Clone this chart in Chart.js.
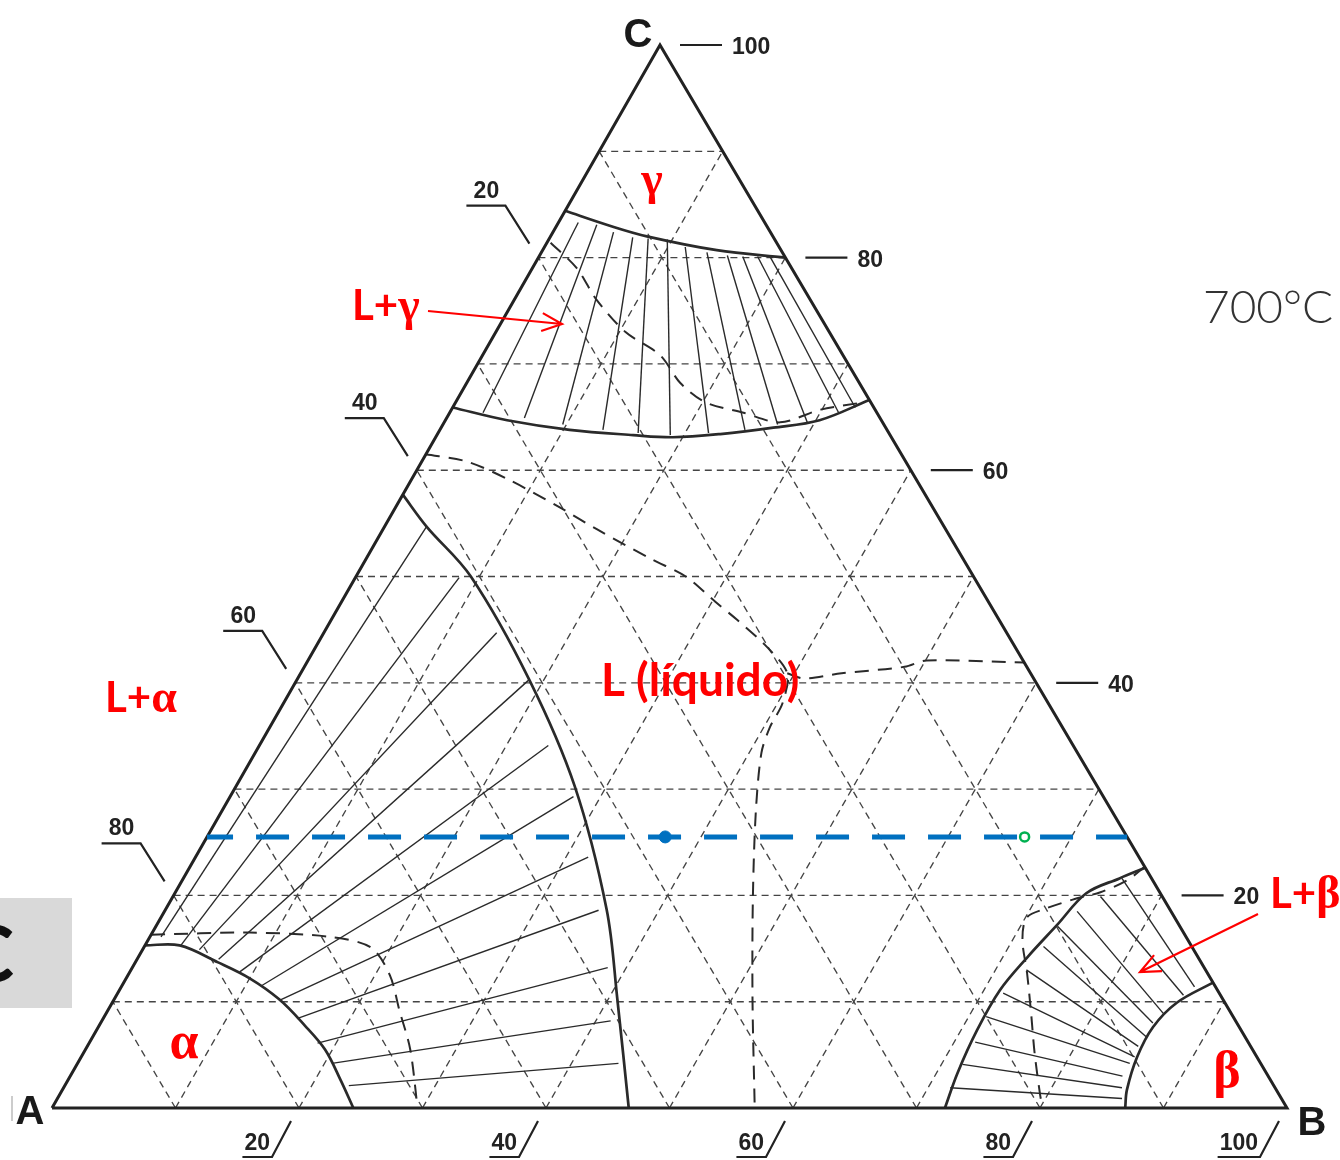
<!DOCTYPE html>
<html>
<head>
<meta charset="utf-8">
<title>Diagrama ternario A-B-C, 700 °C</title>
<script src="https://cdn.jsdelivr.net/npm/chart.js@4.4.1/dist/chart.umd.min.js"></script>
<style>
  html, body { margin: 0; padding: 0; background: #fff; }
  #wrap { width: 1340px; height: 1160px; }
</style>
</head>
<body>
<div id="wrap"><canvas id="ternary" width="1340" height="1160"></canvas></div>
<script>
// All compositions are [%B, %C]; %A is whatever is left to 100.
const gridLevels = [10, 20, 30, 40, 50, 60, 70, 80, 90];
const ticksA = [20, 40, 60, 80];
const ticksB = [20, 40, 60, 80, 100];
const ticksC = [20, 40, 60, 80, 100];

// gamma solvus and L+gamma liquidus
const gammaSolvus = [[0, 84.4], [4.3, 83.0], [7.8, 82.0], [14.1, 80.7], [20.0, 80.0]];
const gammaLiquidus = [[0, 65.9], [5.0, 64.7], [10.5, 63.8], [15.9, 63.3], [19.2, 63.1],
  [22.9, 63.4], [26.9, 64.0], [30.3, 64.7], [33.4, 66.6]];
const gammaTies = [
  [[1.6, 83.3], [2.7, 65.4]], [[3.2, 83.1], [6.3, 64.9]], [[4.9, 82.4], [9.7, 64.3]],
  [[6.7, 81.9], [13.2, 63.8]], [[8.0, 81.8], [16.2, 63.5]], [[9.6, 81.7], [18.9, 63.3]],
  [[11.4, 81.0], [21.9, 63.5]], [[13.4, 80.5], [24.7, 63.8]], [[15.2, 80.2], [27.1, 64.3]],
  [[16.5, 80.1], [29.4, 64.5]], [[17.7, 80.1], [31.5, 65.4]], [[18.7, 80.1], [32.6, 65.9]]
];

// alpha solvus and L+alpha liquidus
const alphaSolvus = [[0, 15.3], [2.8, 15.3], [6.7, 13.7], [10.0, 12.2], [13.4, 10.2],
  [16.6, 7.8], [19.4, 5.5], [22.1, 2.6], [24.4, 0]];
const alphaLiquidus = [[0, 57.7], [3.4, 54.7], [9.3, 50.0], [18.8, 40.3], [27.4, 30.3],
  [35.7, 18.7], [40.7, 10.3], [46.7, 0]];
const alphaTies = [
  [[0.9, 16.1], [3.4, 54.7]], [[2.9, 15.3], [8.4, 49.9]], [[4.6, 14.9], [14.0, 44.7]],
  [[6.6, 14.0], [18.8, 40.3]], [[8.9, 12.8], [23.4, 34.1]], [[11.3, 11.5], [27.8, 29.3]],
  [[13.4, 10.1], [31.8, 23.6]], [[15.7, 8.4], [35.1, 18.6]], [[18.5, 6.1], [38.5, 13.2]],
  [[20.6, 4.2], [41.2, 8.2]], [[23.0, 2.1], [43.8, 4.2]]
];

// beta solvus and L+beta liquidus
const betaLiquidus = [[77.4, 22.6], [75.8, 21.6], [73.8, 20.2], [72.9, 17.2], [72.0, 14.2],
  [71.3, 11.1], [71.3, 7.3], [71.7, 3.3], [72.3, 0]];
const betaSolvus = [[88.2, 11.8], [86.2, 9.9], [85.4, 7.6], [85.5, 4.8], [86.2, 1.7], [86.9, 0]];
const betaTies = [
  [[76.0, 21.6], [86.9, 11.4]], [[75.1, 19.9], [86.4, 10.6]], [[73.9, 18.5], [85.6, 8.9]],
  [[73.0, 17.1], [85.2, 8.0]], [[72.8, 15.2], [85.3, 6.7]], [[72.5, 13.0], [85.1, 5.8]],
  [[71.7, 10.8], [85.3, 4.8]], [[71.4, 8.6], [85.2, 4.2]], [[71.7, 6.2], [85.2, 3.0]],
  [[71.7, 4.1], [85.7, 1.9]], [[71.8, 1.9], [86.2, 0.9]]
];

// long-dash boundaries (other isotherm)
const dashCentral = [[0, 61.5], [3.7, 60.8], [7.9, 59.1], [13.3, 56.5], [17.4, 54.4],
  [23.2, 51.6], [26.7, 50.0], [30.3, 47.6], [32.9, 45.9], [36.5, 43.4], [39.4, 40.9],
  [40.4, 38.1], [40.5, 35.8], [41.0, 33.4], [43.3, 27.8], [47.1, 19.6], [51.7, 10.2], [56.9, 0]];
const dashRight = [[39.4, 40.9], [41.0, 40.4], [43.8, 40.9], [48.6, 41.5], [50.1, 42.1], [58.1, 41.9]];
const dashGamma = [[0.3, 81.4], [3.6, 79.0], [6.7, 76.0], [10.5, 73.0], [14.4, 70.8],
  [17.3, 68.2], [20.2, 66.4], [23.8, 65.4], [27.2, 64.5], [29.9, 65.7], [33.1, 66.4]];
const dashAlpha = [[0, 16.3], [7.9, 16.5], [14.6, 16.1], [18.4, 15.1], [21.2, 12.5],
  [23.6, 9.2], [26.3, 5.5], [29.6, 0]];
const dashBeta = [[77.3, 22.7], [76.5, 21.4], [74.9, 20.3], [73.0, 19.6], [71.3, 18.8],
  [70.1, 17.9], [70.8, 15.8], [72.7, 12.7], [74.9, 8.9], [77.0, 5.2], [79.3, 1.4], [80.2, 0]];

// isopleth at constant C and the two alloys on it
const isoC = 25.5;
const isoRange = [0, 74.5];
const alloyFilled = [37.1];
const alloyOpen = [66.2];

// --- geometry -------------------------------------------------------------
// the drawn triangle is slightly sheared: C sits 608 px right of A on a 1235 px base
const SKEW = 608 / 1235;
const toXY = ([b, c]) => ({ x: b + c * SKEW, y: c });

const INK = '#2a2a2a';
const GRID = '#444';
const RED = '#ff0000';

function line(points, opts = {}) {
  return {
    data: points.map(toXY),
    showLine: true,
    pointRadius: 0,
    fill: false,
    borderColor: opts.color || INK,
    borderWidth: opts.width || 1.3,
    borderDash: opts.dash || [],
    borderDashOffset: opts.dashOffset || 0,
    tension: opts.tension || 0,
    order: opts.order != null ? opts.order : 4
  };
}

const datasets = [];

// grid: constant C, constant B, constant A
gridLevels.forEach((k) => {
  const g = { color: GRID, width: 1.35, dash: [7, 5], order: 9 };
  datasets.push(line([[0, k], [100 - k, k]], g));
  datasets.push(line([[k, 0], [k, 100 - k]], g));
  datasets.push(line([[100 - k, 0], [0, 100 - k]], g));
});

datasets.push(line([[0, 0], [100, 0], [0, 100], [0, 0]], { width: 3, color: '#222', order: 2 }));

[gammaTies, alphaTies, betaTies].forEach((ties) => {
  ties.forEach((t) => datasets.push(line(t, { width: 1.4, order: 6 })));
});

[gammaSolvus, gammaLiquidus, alphaSolvus, alphaLiquidus, betaLiquidus, betaSolvus].forEach((c) => {
  datasets.push(line(c, { width: 2.7, tension: 0.35, order: 3 }));
});

[dashCentral, dashRight, dashGamma, dashAlpha, dashBeta].forEach((c) => {
  datasets.push(line(c, { width: 2, dash: [14, 9], tension: 0.3, order: 5 }));
});

datasets.push(line([[isoRange[0], isoC], [isoRange[1], isoC]],
  { color: '#0070c0', width: 5, dash: [33, 23], dashOffset: 7, order: 1 }));

datasets.push({
  data: alloyFilled.map((b) => toXY([b, isoC])),
  pointRadius: 6, pointBackgroundColor: '#0070c0', pointBorderColor: '#0070c0',
  pointBorderWidth: 1, order: 0
});
datasets.push({
  data: alloyOpen.map((b) => toXY([b, isoC])),
  pointRadius: 4.5, pointBackgroundColor: '#fff', pointBorderColor: '#00b050',
  pointBorderWidth: 2.5, order: 0
});

// --- text, leaders and arrows ---------------------------------------------
function arrow(ctx, x1, y1, x2, y2) {
  const a = Math.atan2(y2 - y1, x2 - x1);
  const h = 22, s = 0.42;
  ctx.beginPath();
  ctx.moveTo(x1, y1);
  ctx.lineTo(x2, y2);
  ctx.moveTo(x2 - h * Math.cos(a - s), y2 - h * Math.sin(a - s));
  ctx.lineTo(x2, y2);
  ctx.lineTo(x2 - h * Math.cos(a + s), y2 - h * Math.sin(a + s));
  ctx.stroke();
}

function mixed(ctx, parts, x, y) {
  let cx = x;
  parts.forEach(([t, f]) => {
    ctx.font = f;
    ctx.fillText(t, cx, y);
    cx += ctx.measureText(t).width;
  });
}

const annotations = {
  id: 'annotations',
  beforeDatasetsDraw(chart) {
    const ctx = chart.ctx;
    ctx.save();
    ctx.fillStyle = '#d9d9d9';
    ctx.fillRect(0, 898, 72, 110);
    ctx.fillStyle = '#111';
    ctx.font = "bold 78px Lato, 'Open Sans', sans-serif";
    ctx.textAlign = 'right';
    ctx.textBaseline = 'alphabetic';
    ctx.fillText('C', 14, 982);
    ctx.restore();
  },
  afterDatasetsDraw(chart) {
    const ctx = chart.ctx;
    const sx = chart.scales.x, sy = chart.scales.y;
    const px = (b, c) => [sx.getPixelForValue(b + c * SKEW), sy.getPixelForValue(c)];
    ctx.save();
    ctx.textBaseline = 'alphabetic';

    // tick labels
    ctx.strokeStyle = '#222';
    ctx.fillStyle = '#222';
    ctx.lineWidth = 2.2;
    ctx.font = "bold 23px 'Liberation Sans', Arial, sans-serif";

    ticksB.forEach((k) => {
      const [x, y] = px(k, 0);
      const t = String(k);
      const w = ctx.measureText(t).width;
      const right = x - 27;
      ctx.textAlign = 'right';
      ctx.fillText(t, right - 2, y + 42);
      ctx.beginPath();
      ctx.moveTo(right - w - 4, y + 49);
      ctx.lineTo(right, y + 49);
      ctx.lineTo(x - 8, y + 13);
      ctx.stroke();
    });

    ticksA.forEach((k) => {
      const [x, y] = px(0, 100 - k);
      const t = String(k);
      ctx.textAlign = 'center';
      ctx.fillText(t, x - 52, y - 60);
      ctx.beginPath();
      ctx.moveTo(x - 72, y - 52);
      ctx.lineTo(x - 33, y - 52);
      ctx.lineTo(x - 9, y - 14);
      ctx.stroke();
    });

    ticksC.forEach((k) => {
      const [x, y] = px(100 - k, k);
      ctx.textAlign = 'left';
      ctx.fillText(String(k), x + 72, y + 9);
      ctx.beginPath();
      ctx.moveTo(x + 20, y);
      ctx.lineTo(x + 62, y);
      ctx.stroke();
    });

    // corner labels
    ctx.font = "bold 40px 'Liberation Sans', Arial, sans-serif";
    ctx.textAlign = 'center';
    ctx.fillStyle = '#1a1a1a';
    const [ax, ay] = px(0, 0), [bx, by] = px(100, 0), [cx, cy] = px(0, 100);
    ctx.fillText('C', cx - 22, cy + 2);
    ctx.fillText('A', ax - 22, ay + 16);
    ctx.fillText('B', bx + 25, by + 27);

    ctx.strokeStyle = '#999';
    ctx.lineWidth = 1;
    ctx.beginPath();
    ctx.moveTo(12, 1096);
    ctx.lineTo(12, 1121);
    ctx.stroke();

    // temperature note
    ctx.fillStyle = '#333';
    ctx.textAlign = 'left';
    ctx.font = "300 46px Lato, 'DejaVu Sans', sans-serif";
    ctx.fillText('700°C', 1203, 323);

    // phase names
    const sans = "bold 42px Lato, 'Open Sans', sans-serif";
    const greek = "bold 46px 'Liberation Serif', 'DejaVu Serif', serif";
    ctx.fillStyle = RED;
    ctx.textAlign = 'left';
    mixed(ctx, [['L+', sans], ['γ', greek]], 352, 320);
    mixed(ctx, [['L+', sans], ['α', greek]], 105, 712);
    mixed(ctx, [['L+', sans], ['β', greek]], 1270, 908);
    mixed(ctx, [['L (líquido)', "bold 46px Lato, 'Open Sans', sans-serif"]], 601, 696);
    ctx.textAlign = 'center';
    ctx.font = greek;
    ctx.fillText('γ', 652, 194);
    ctx.font = "bold 52px 'Liberation Serif', 'DejaVu Serif', serif";
    ctx.fillText('α', 184, 1058);
    ctx.fillText('β', 1227, 1087);

    ctx.strokeStyle = RED;
    ctx.lineWidth = 2.2;
    arrow(ctx, 428, 311, 562, 324);
    arrow(ctx, 1258, 914, 1140, 972);

    ctx.restore();
  }
};

new Chart(document.getElementById('ternary'), {
  type: 'scatter',
  data: { datasets },
  options: {
    responsive: false,
    animation: false,
    events: [],
    layout: { padding: 0, autoPadding: false },
    plugins: { legend: { display: false }, tooltip: { enabled: false } },
    scales: {
      x: { type: 'linear', display: false, min: -52 / 12.35, max: (1340 - 52) / 12.35 },
      y: { type: 'linear', display: false, min: -52 / 10.63, max: 1108 / 10.63 }
    }
  },
  plugins: [annotations]
});
</script>
</body>
</html>
